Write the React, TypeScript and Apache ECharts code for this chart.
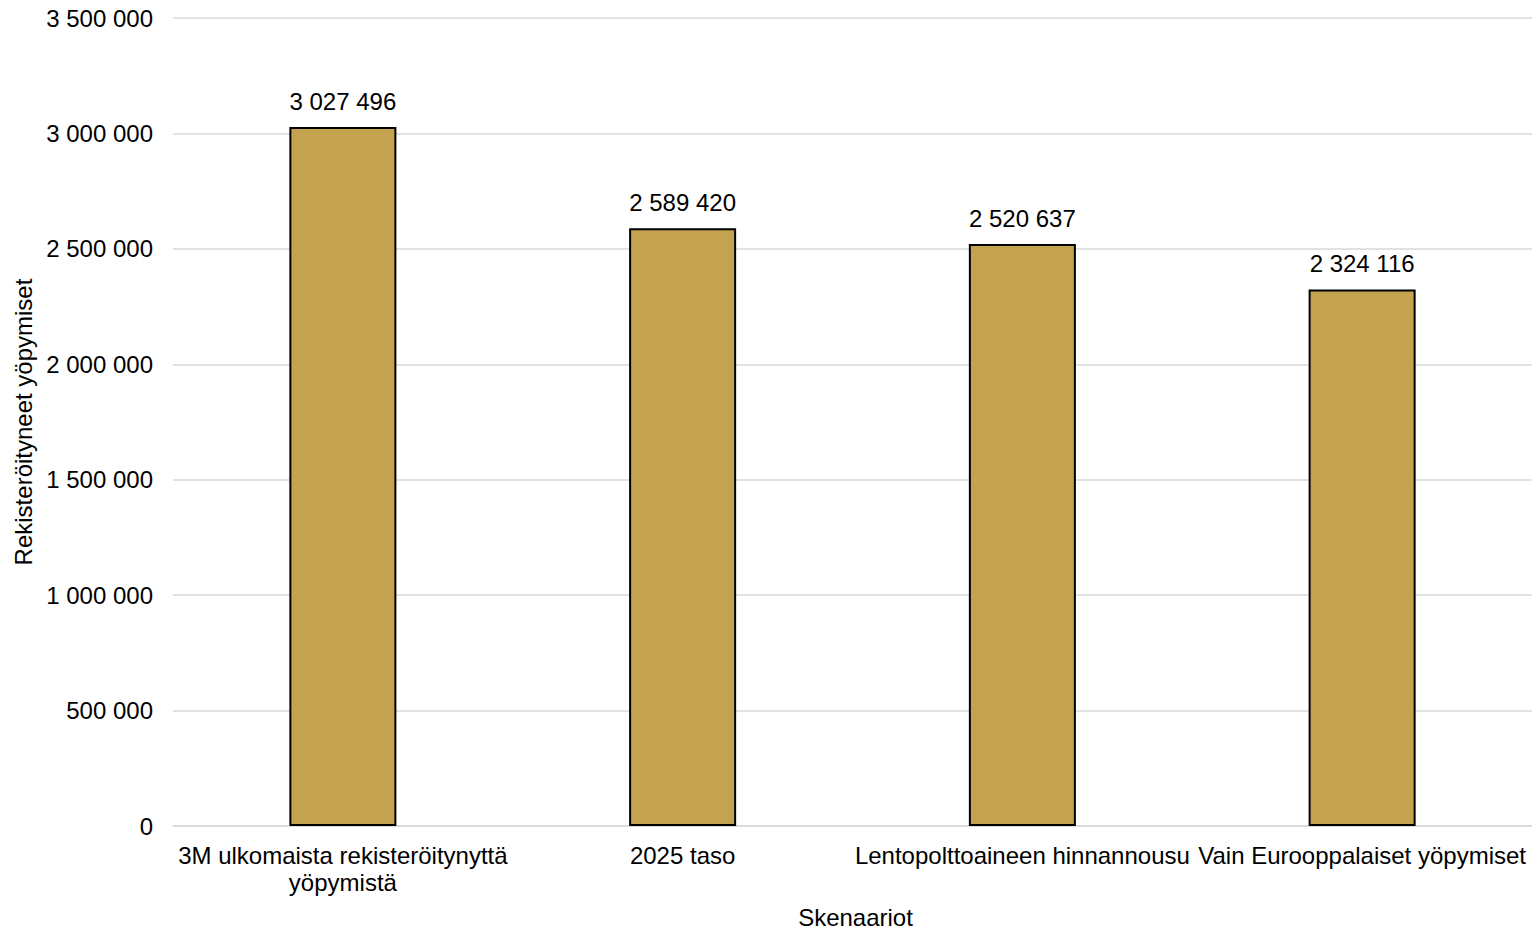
import React, { useEffect, useRef } from "react";
import * as echarts from "echarts";

const categories = [
  "3M ulkomaista rekisteröitynyttä\nyöpymistä",
  "2025 taso",
  "Lentopolttoaineen hinnannousu",
  "Vain Eurooppalaiset yöpymiset",
];
const values = [3027496, 2589420, 2520637, 2324116];
const yTicks = { min: 0, max: 3500000, interval: 500000 };

const fmt = (v: number) =>
  String(Math.round(v)).replace(/\B(?=(\d{3})+(?!\d))/g, " ");

const FONT = "Arial, 'Liberation Sans', sans-serif";
const FS = 24;

export default function App() {
  const ref = useRef<HTMLDivElement>(null);
  useEffect(() => {
    if (!ref.current) return;
    const chart = echarts.init(ref.current, undefined, { renderer: "svg" });
    chart.setOption({
      animation: false,
      textStyle: { fontFamily: FONT },
      grid: {
        left: 173,
        right: 0,
        top: 18,
        bottom: 105,
        containLabel: false,
        outerBoundsMode: "none",
      },
      xAxis: {
        type: "category",
        data: categories,
        name: "Skenaariot",
        nameLocation: "middle",
        nameGap: 79,
        nameTextStyle: { fontSize: FS, color: "#000", fontFamily: FONT, padding: [0, 0, 0, 6] },
        axisLine: { show: true, lineStyle: { color: "#d9d9d9", width: 1.5 } },
        axisTick: { show: false },
        axisLabel: {
          interval: 0,
          fontSize: FS,
          lineHeight: 27,
          color: "#000",
          margin: 16,
          fontFamily: FONT,
        },
      },
      yAxis: {
        type: "value",
        min: yTicks.min,
        max: yTicks.max,
        interval: yTicks.interval,
        name: "Rekisteröityneet yöpymiset",
        nameLocation: "middle",
        nameGap: 138,
        nameRotate: 90,
        nameTextStyle: { fontSize: FS, color: "#000", fontFamily: FONT },
        axisLine: { show: false },
        axisTick: { show: false },
        axisLabel: {
          fontSize: FS,
          color: "#000",
          margin: 20,
          fontFamily: FONT,
          formatter: (v: number) => fmt(v),
        },
        splitLine: { lineStyle: { color: "#d9d9d9", width: 1.5 } },
      },
      series: [
        {
          type: "bar",
          data: values,
          barWidth: "31.5%",
          itemStyle: { color: "#C3A250", borderColor: "#000", borderWidth: 2 },
          label: {
            show: true,
            position: "top",
            distance: 14,
            fontSize: FS,
            color: "#000",
            fontFamily: FONT,
            formatter: (p: any) => fmt(p.value),
          },
        },
      ],
    });
    return () => chart.dispose();
  }, []);
  return (
    <div
      ref={ref}
      style={{ position: "fixed", left: 0, top: 0, width: 1532, height: 931, background: "#fff" }}
    />
  );
}
